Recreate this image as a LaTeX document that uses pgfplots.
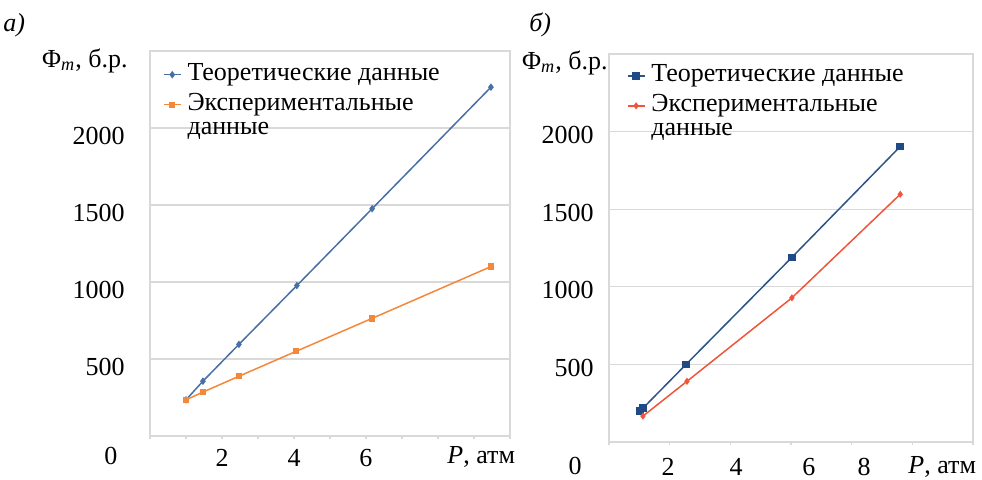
\documentclass[border=0pt]{standalone}
\usepackage{fontspec}
\setmainfont{Liberation Serif}
\usepackage{pgfplots}
\pgfplotsset{compat=1.18}

\definecolor{gridc}{HTML}{D9D9D9}
\definecolor{blueA}{HTML}{4A6FA5}
\definecolor{orangeA}{HTML}{F4883A}
\definecolor{blueB}{HTML}{2E5487}
\definecolor{blueBm}{HTML}{1F4A85}
\definecolor{redB}{HTML}{EE553A}

\newcommand{\fnt}{\fontsize{13pt}{15pt}\selectfont}
\newcommand{\twoline}[2]{\begin{tabular}[t]{@{}l@{}}#1\\#2\end{tabular}}

\pgfplotsset{
 panel/.style={
  scale only axis,
  anchor=south west,
  axis line style={gridc, line width=0.6pt},
  ymajorgrids, grid style={gridc, line width=0.6pt},
  ymin=0, ymax=2500, ytick={0,500,...,2500},
  yticklabels={,500,1000,1500,2000,},
  tick align=outside,
  major tick length=1.5pt,
  xtick style={gridc, line width=0.6pt},
  ytick style={draw=none},
  tick pos=left,
  tick label style={font=\fnt},
  /pgf/number format/assume math mode=true,
  clip=false,
  legend style={draw=none, fill=none, inner sep=0pt, outer sep=0pt,
    cells={anchor=base west, inner sep=0pt, text height=9pt, text depth=3pt},
    font=\fontsize{13pt}{12pt}\selectfont, row sep=0.5pt, column sep=1pt},
  legend image code/.code={\draw[mark repeat=2,mark phase=2] plot coordinates {(0cm,0.3em)(0.15cm,0.3em)(0.3cm,0.3em)};},
 },
}

\begin{document}
\begin{tikzpicture}
\path[use as bounding box] (0,0) rectangle (491pt,239.5pt);

% ---------- panel a ----------
\begin{axis}[panel, at={(75pt,21.5pt)}, width=180pt, height=192.5pt,
  xmin=0, xmax=10, xtick={0,1,...,10}, xticklabels={,,2,,4,,6,,,,},
  xticklabel style={inner sep=0pt, anchor=north, yshift=-4.75pt},
  yticklabel style={inner sep=0pt, anchor=east, xshift=-11pt, yshift=-3.75pt},
  legend style={at={(0.036,0.98)}, anchor=north west}]
\addplot[blueA, line width=0.75pt, mark=diamond*, mark size=1.3pt, mark options={solid}]
  coordinates {(1.0,235) (1.47,356) (2.47,595) (4.08,977) (6.17,1476) (9.47,2265)};
\addlegendentry{Теоретические данные}
\addplot[orangeA, line width=0.75pt, mark=square*, mark size=1.2pt, mark options={solid}]
  coordinates {(1.0,235) (1.47,285) (2.47,388) (4.06,550) (6.17,764) (9.47,1100)};
\addlegendentry{\twoline{Экспериментальные}{данные}}
\end{axis}

% ---------- panel b ----------
\begin{axis}[panel, at={(304.5pt,18.5pt)}, width=182pt, height=194pt,
  xmin=0, xmax=12, xtick={0,2,...,12}, xticklabels={},
  extra x ticks={1.95,4.19,6.59,8.41}, extra x tick labels={2,4,6,8},
  extra x tick style={tick style={draw=none}},
  xticklabel style={inner sep=0pt, anchor=north, yshift=-6.5pt},
  yticklabel style={inner sep=0pt, anchor=east, xshift=-6pt, yshift=-1.75pt},
  legend style={at={(0.049,0.985)}, anchor=north west}]
\addplot[blueB, line width=0.75pt, mark=square*, mark size=1.5pt, mark options={solid, fill=blueBm, draw=blueBm}]
  coordinates {(1.02,199) (1.12,218) (2.54,500) (6.03,1190) (9.6,1904)};
\addlegendentry{Теоретические данные}
\addplot[redB, line width=0.75pt, mark=diamond*, mark size=1.2pt, mark options={solid}]
  coordinates {(1.12,167) (2.57,391) (6.03,929) (9.6,1596)};
\addlegendentry{\twoline{Экспериментальные}{данные}}
\end{axis}

% ---------- texts ----------
\node[font=\fnt\itshape, anchor=base west, inner sep=0pt] at (1.5pt,224pt) {а)};
\node[font=\fnt\itshape, anchor=base west, inner sep=0pt] at (264.5pt,224pt) {б)};
\node[font=\fnt, anchor=base east, inner sep=0pt] at (64pt,206pt) {Φ\textsubscript{\textit{m}}, б.р.};
\node[font=\fnt, anchor=base east, inner sep=0pt] at (304pt,205pt) {Φ\textsubscript{\textit{m}}, б.р.};
\node[font=\fnt, inner sep=0pt] at (55.5pt,11.5pt) {0};
\node[font=\fnt, inner sep=0pt] at (287.5pt,6.5pt) {0};
\node[font=\fnt, anchor=base west, inner sep=0pt] at (223.5pt,7.75pt) {\textit{P}, атм};
\node[font=\fnt, anchor=base west, inner sep=0pt] at (454pt,2.75pt) {\textit{P}, атм};
\end{tikzpicture}
\end{document}
